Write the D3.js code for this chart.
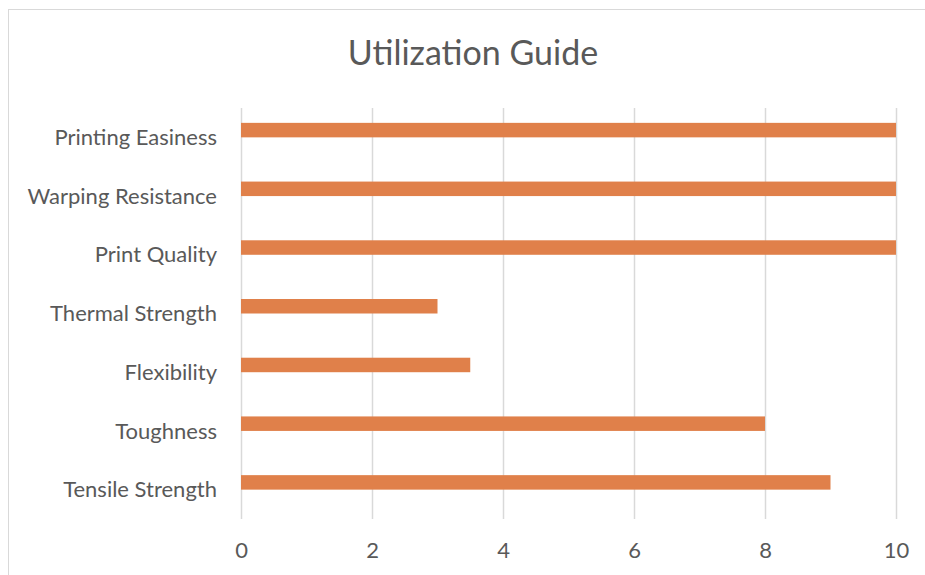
<!DOCTYPE html>
<html><head><meta charset="utf-8">
<script src="https://cdn.jsdelivr.net/npm/d3@7"></script>
<style>body{margin:0;background:#fff;}svg{display:block;}</style>
</head><body><svg id="c" width="925" height="575"></svg>
<script>
const categories = ["Printing Easiness","Warping Resistance","Print Quality","Thermal Strength","Flexibility","Toughness","Tensile Strength"];
const values = [10,10,10,3,3.5,8,9];
const ticks = [0,2,4,6,8,10];
const title = "Utilization Guide";
const FONT = "Lato, 'Open Sans', sans-serif";

const svg = d3.select("#c");
svg.append("rect").attr("x",8.5).attr("y",9.5).attr("width",1000).attr("height",1000)
  .attr("fill","#fff").attr("stroke","#d9d9d9").attr("stroke-width",1);

const x = d3.scaleLinear().domain([0,10]).range([241,896]);
const y = d3.scaleBand().domain(categories).range([108,519]);
const barH = 14.5;

svg.append("text").attr("x",473).attr("y",65).attr("text-anchor","middle")
  .attr("font-family",FONT).attr("font-size",34).attr("fill","#595959").text(title);

const gx = svg.append("g").attr("transform","translate(0,519)")
  .call(d3.axisBottom(x).tickValues(ticks).tickSize(411).tickFormat(d3.format("d")))
  .attr("font-family",FONT).attr("font-size",22);
gx.select(".domain").remove();
gx.selectAll(".tick line").attr("y1",0).attr("y2",-411).attr("stroke","#d9d9d9").attr("stroke-width",1.5);
gx.selectAll(".tick text").attr("y",39).attr("dy",0).attr("fill","#595959");

svg.append("g").selectAll("rect").data(categories).join("rect")
  .attr("x",x(0)).attr("y",(d)=>y(d)+y.bandwidth()/2-barH)
  .attr("width",(d,i)=>x(values[i])-x(0)).attr("height",barH)
  .attr("fill","#E0804A");

const gy = svg.append("g").attr("transform","translate(241,0)")
  .call(d3.axisLeft(y).tickSize(0).tickPadding(24))
  .attr("font-family",FONT).attr("font-size",22);
gy.select(".domain").remove();
gy.selectAll(".tick text").attr("fill","#595959").attr("dy","0.35em");
</script></body></html>
